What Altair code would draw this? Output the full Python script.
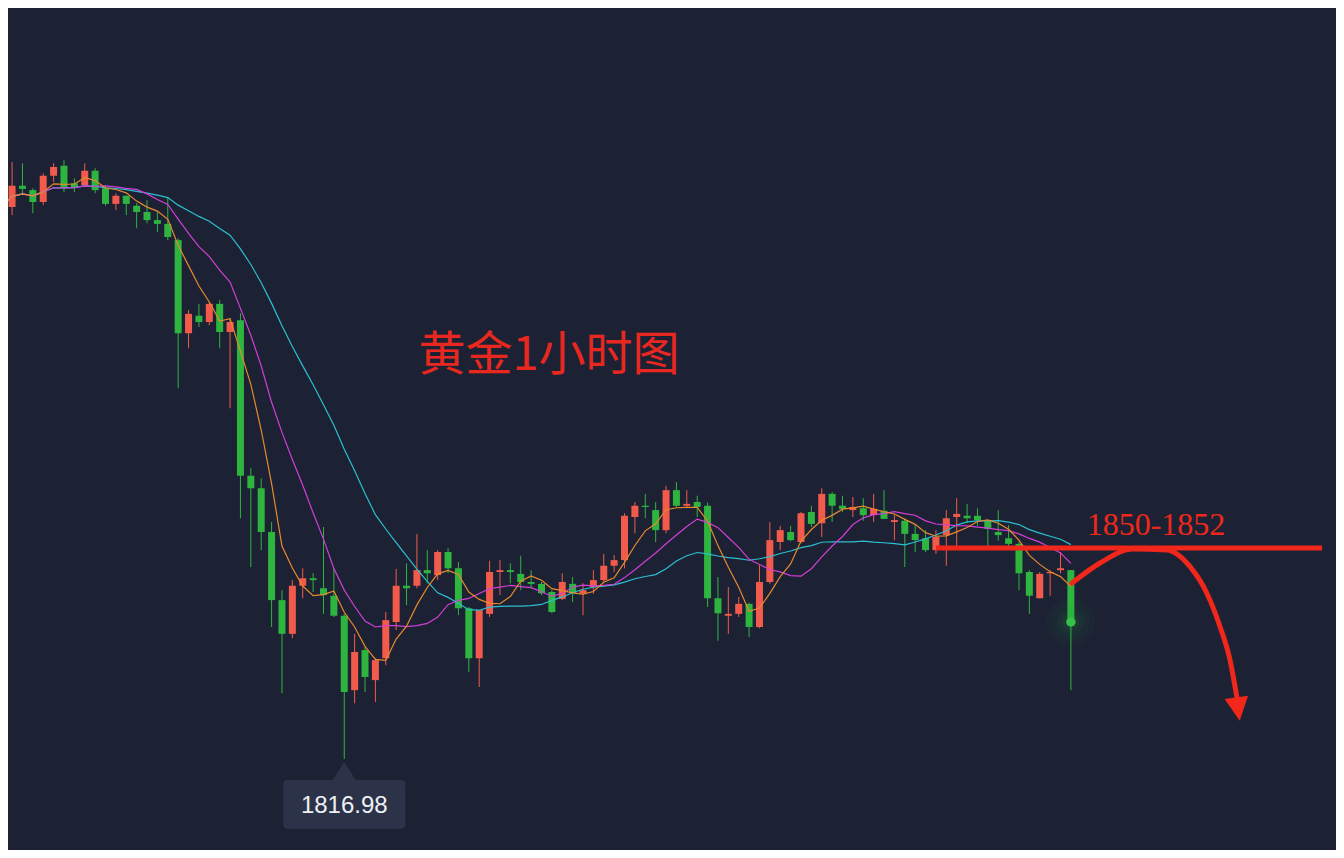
import altair as alt
import pandas as pd

# ---------------- data (XAU/USD, 1-hour candles) ----------------
opens = [1908.3, 1905.3, 1908.7, 1908.0, 1906.1, 1910.3, 1911.9, 1909.1, 1908.8, 1911.1,
         1908.3, 1905.8, 1907.1, 1905.5, 1904.5, 1903.2, 1902.6, 1900.0, 1885.1, 1887.9,
         1886.9, 1889.8, 1885.3, 1887.2, 1862.3, 1860.3, 1853.3, 1842.4, 1837.0, 1844.7,
         1845.9, 1844.3, 1843.1, 1839.9, 1828.0, 1834.4, 1829.6, 1833.1, 1838.9, 1844.7,
         1844.7, 1847.2, 1846.4, 1850.1, 1847.5, 1841.1, 1833.1, 1840.2, 1846.9, 1847.2,
         1846.6, 1845.3, 1845.0, 1843.7, 1842.6, 1845.0, 1843.5, 1844.5, 1845.6, 1847.9,
         1848.8, 1855.7, 1857.5, 1856.8, 1853.6, 1860.0, 1857.5, 1858.1, 1857.5, 1842.7,
         1839.9, 1840.2, 1841.8, 1838.1, 1845.3, 1851.7, 1853.3, 1851.7, 1856.5, 1854.7,
         1859.4, 1857.5, 1856.8, 1857.1, 1856.0, 1856.7, 1854.9, 1855.1, 1853.0, 1852.3,
         1850.4, 1852.8, 1855.7, 1855.9, 1855.9, 1855.2, 1853.3, 1852.3, 1851.4, 1846.9,
         1842.7, 1846.7, 1847.2, 1847.2]
highs = [1912.8, 1912.5, 1912.3, 1908.3, 1910.7, 1912.3, 1912.8, 1909.9, 1912.3, 1911.5,
         1908.8, 1907.5, 1907.1, 1905.9, 1906.4, 1904.5, 1906.9, 1900.3, 1888.8, 1889.8,
         1890.1, 1890.4, 1887.5, 1888.3, 1863.5, 1861.9, 1854.9, 1844.0, 1845.6, 1847.5,
         1846.7, 1854.1, 1847.5, 1840.2, 1837.0, 1834.9, 1833.1, 1840.5, 1847.4, 1848.3,
         1853.0, 1850.4, 1850.4, 1850.7, 1848.5, 1841.3, 1840.8, 1848.7, 1848.8, 1848.3,
         1849.5, 1847.2, 1845.3, 1844.0, 1846.7, 1846.1, 1845.1, 1847.2, 1849.8, 1849.6,
         1856.3, 1858.1, 1859.4, 1858.1, 1860.7, 1861.3, 1860.0, 1859.1, 1858.0, 1846.1,
         1844.5, 1842.9, 1842.0, 1848.0, 1854.9, 1854.3, 1854.3, 1856.5, 1857.5, 1860.3,
         1859.7, 1859.1, 1858.9, 1858.7, 1859.4, 1860.0, 1856.0, 1855.5, 1854.4, 1853.6,
         1853.6, 1856.8, 1858.7, 1857.8, 1857.1, 1855.2, 1856.8, 1854.4, 1851.7, 1847.2,
         1846.9, 1847.2, 1850.1, 1847.2]
lows = [1901.9, 1904.0, 1907.2, 1904.3, 1905.6, 1909.3, 1907.7, 1907.7, 1908.5, 1907.5,
        1905.5, 1904.8, 1904.0, 1901.9, 1902.7, 1901.3, 1900.0, 1876.3, 1882.7, 1886.1,
        1886.4, 1882.7, 1873.1, 1855.5, 1847.7, 1850.4, 1838.1, 1827.5, 1836.3, 1842.7,
        1843.7, 1840.2, 1839.7, 1816.98, 1825.9, 1827.7, 1826.1, 1832.0, 1837.6, 1841.6,
        1844.3, 1845.1, 1845.6, 1846.7, 1840.0, 1830.9, 1828.5, 1839.7, 1843.2, 1845.1,
        1844.0, 1844.3, 1843.2, 1840.3, 1842.4, 1842.1, 1840.0, 1843.4, 1845.3, 1846.9,
        1847.5, 1853.1, 1855.5, 1851.7, 1853.1, 1857.3, 1857.1, 1855.7, 1841.3, 1835.9,
        1837.0, 1839.7, 1836.5, 1837.9, 1845.0, 1850.4, 1851.8, 1851.5, 1854.1, 1852.5,
        1854.9, 1856.5, 1855.7, 1855.1, 1854.9, 1855.4, 1852.0, 1847.7, 1850.1, 1850.1,
        1849.8, 1847.9, 1851.1, 1854.7, 1854.3, 1851.1, 1851.9, 1850.9, 1844.0, 1840.2,
        1842.7, 1843.1, 1846.7, 1828.0]
closes = [1905.3, 1908.7, 1908.2, 1906.1, 1910.3, 1911.7, 1908.3, 1908.5, 1911.1, 1908.0,
          1905.8, 1907.1, 1905.8, 1904.5, 1903.2, 1902.6, 1900.5, 1885.1, 1888.2, 1886.9,
          1889.8, 1885.3, 1886.9, 1862.3, 1860.3, 1853.3, 1842.4, 1837.0, 1844.7, 1845.9,
          1845.6, 1843.2, 1839.9, 1827.7, 1834.1, 1830.1, 1832.8, 1839.2, 1844.7, 1844.3,
          1847.2, 1846.7, 1850.1, 1847.5, 1841.1, 1833.1, 1840.8, 1846.9, 1847.2, 1846.9,
          1845.3, 1845.0, 1843.5, 1840.5, 1845.3, 1843.5, 1844.0, 1845.6, 1847.9, 1848.8,
          1855.9, 1857.5, 1857.3, 1853.6, 1860.0, 1857.5, 1857.8, 1857.3, 1842.7, 1840.3,
          1840.2, 1841.8, 1838.1, 1845.3, 1852.0, 1853.6, 1852.0, 1856.3, 1854.6, 1859.4,
          1857.5, 1857.0, 1857.3, 1856.0, 1857.0, 1855.4, 1855.2, 1853.0, 1852.0, 1850.4,
          1852.5, 1855.5, 1856.2, 1855.5, 1855.2, 1853.8, 1852.8, 1851.4, 1846.7, 1843.1,
          1846.6, 1846.9, 1847.5, 1838.9]

# annotation values
title_text = "黄金1小时图"
zone_text = "1850-1852"
zone_level = 1850.74          # horizontal resistance line
zone_start = 90               # candle index where the line starts
zone_end = 127.2
arrow_idx = [103.08, 105.81, 108.99, 112.24, 114.48, 116.09, 117.37, 118.33, 118.98]
arrow_price = [1845.09, 1848.34, 1850.58, 1850.42, 1847.75, 1843.54, 1838.15, 1832.82, 1826.95]
arrow_head = (119.1, 1824.98)

# ---------------- styling ----------------
BG = "#1c2234"
UP = "#f25b4b"
DOWN = "#2eb53f"
ANN = "#f0271a"

W, H = 1328, 842
XDOM = [0.607, 128.54]
YDOM = [1802.42, 1937.14]

df = pd.DataFrame({"i": list(range(len(opens))), "open": opens, "high": highs,
                   "low": lows, "close": closes})

xs = alt.Scale(domain=XDOM, nice=False, zero=False, padding=0)
ys = alt.Scale(domain=YDOM, nice=False, zero=False, padding=0)
X = alt.X("i:Q", scale=xs, axis=None)

col = alt.Color("dir:N", scale=alt.Scale(domain=["up", "down"], range=[UP, DOWN]), legend=None)

base = alt.Chart(df).transform_calculate(dir="datum.close >= datum.open ? 'up' : 'down'")

wicks = base.mark_rule(strokeWidth=1, clip=True).encode(
    x=X, y=alt.Y("low:Q", scale=ys, axis=None), y2="high:Q", color=col)
bodies = base.mark_bar(size=7, clip=True).encode(
    x=X, y=alt.Y("open:Q", scale=ys, axis=None), y2="close:Q", color=col)


def ma(n, color):
    return alt.Chart(df).transform_window(
        ma="mean(close)", frame=[-(n - 1), 0], sort=[alt.SortField("i")]
    ).mark_line(color=color, strokeWidth=1.2, clip=True).encode(
        x=X, y=alt.Y("ma:Q", scale=ys, axis=None))


ma5 = ma(5, "#e8892c")
ma10 = ma(10, "#d23ed6")
ma20 = ma(20, "#2bbfcf")

# current price marker with glow
last = pd.DataFrame({"i": [len(closes) - 1], "p": [closes[-1]]})
glow = alt.layer(*[
    alt.Chart(last).mark_circle(color=DOWN, opacity=op, size=sz).encode(
        x=X, y=alt.Y("p:Q", scale=ys, axis=None))
    for sz, op in [(2400, 0.03), (1400, 0.04), (700, 0.05), (300, 0.08)]
])
dot = alt.Chart(last).mark_circle(color="#34c24a", opacity=1, size=90).encode(
    x=X, y=alt.Y("p:Q", scale=ys, axis=None))

# low label
lo_i = lows.index(min(lows))
lo = pd.DataFrame({"i": [lo_i], "p": [min(lows)], "t": [f"{min(lows):.2f}"]})
box_path = ("M-1,-0.34 Q-1,-0.41 -0.93,-0.41 L-0.19,-0.41 L0,-0.705 L0.19,-0.41 "
            "L0.93,-0.41 Q1,-0.41 1,-0.34 L1,0.32 Q1,0.39 0.93,0.39 L-0.93,0.39 "
            "Q-1,0.39 -1,0.32 Z")
lo_box = alt.Chart(lo).mark_point(shape=box_path, size=122 ** 2, filled=True,
                                  color="#2c3349", opacity=1, yOffset=46).encode(
    x=X, y=alt.Y("p:Q", scale=ys, axis=None))
lo_text = alt.Chart(lo).mark_text(color="#eef0f5", fontSize=24, font="Liberation Sans",
                                  baseline="middle", align="center", yOffset=47).encode(
    x=X, y=alt.Y("p:Q", scale=ys, axis=None), text="t:N")

# resistance zone line and label
zone = pd.DataFrame({"a": [zone_start], "b": [zone_end], "p": [zone_level]})
zone_line = alt.Chart(zone).mark_rule(color=ANN, strokeWidth=5).encode(
    x=alt.X("a:Q", scale=xs, axis=None), x2="b:Q", y=alt.Y("p:Q", scale=ys, axis=None))
zone_lbl = alt.Chart(pd.DataFrame({"t": [zone_text]})).mark_text(
    color=ANN, fontSize=32, font="Liberation Serif", align="center", baseline="alphabetic"
).encode(x=alt.value(1148), y=alt.value(527), text="t:N")

# projected path arrow
arr = pd.DataFrame({"i": arrow_idx, "p": arrow_price, "o": list(range(len(arrow_idx)))})
arrow_line = alt.Chart(arr).mark_line(color=ANN, strokeWidth=5, interpolate="monotone",
                                      strokeCap="round").encode(
    x=alt.X("i:Q", scale=xs, axis=None), y=alt.Y("p:Q", scale=ys, axis=None), order="o:Q")
head = pd.DataFrame({"i": [arrow_head[0]], "p": [arrow_head[1]]})
arrow_head_m = alt.Chart(head).mark_point(shape="M-1,-1 L1,-1 L0,1 Z", size=560, filled=True,
                                          color=ANN, opacity=1, angle=352).encode(
    x=alt.X("i:Q", scale=xs, axis=None), y=alt.Y("p:Q", scale=ys, axis=None))

title = alt.Chart(pd.DataFrame({"t": [title_text]})).mark_text(
    color="#e8281f", fontSize=47, font="Noto Sans CJK SC", align="center", baseline="middle"
).encode(x=alt.value(541), y=alt.value(348), text="t:N")

chart = alt.layer(
    wicks, bodies, ma20, ma10, ma5, glow, dot, lo_box, lo_text,
    zone_line, arrow_line, arrow_head_m, zone_lbl, title
).properties(width=W, height=H, padding=0, background=BG).configure_view(stroke=None)

chart.save("out.html", embed_options={"renderer": "svg", "actions": False})
